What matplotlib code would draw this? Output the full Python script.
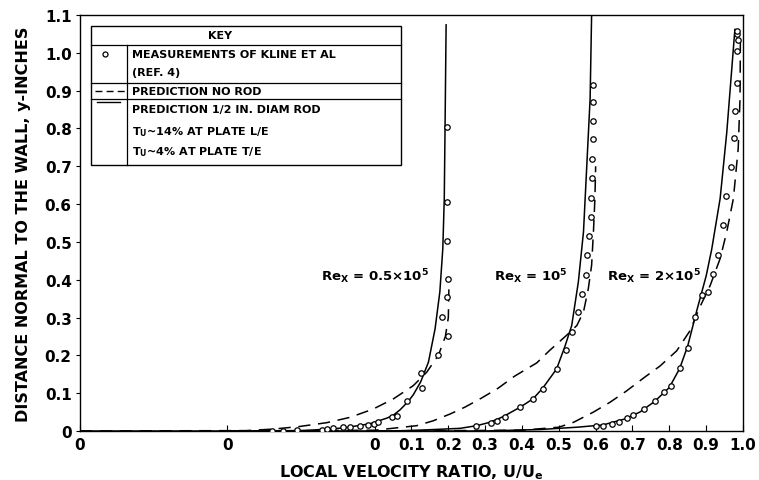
import matplotlib
matplotlib.use('Agg')
import matplotlib.pyplot as plt
from matplotlib.patches import Rectangle

plt.rcParams['font.family'] = 'DejaVu Sans'
plt.rcParams['font.weight'] = 'bold'
plt.rcParams['mathtext.default'] = 'bf'

# each profile is drawn with its own zero, shifted along the x axis
offsets = [-0.8, -0.4, 0.0]
re_labels = [r'Re$_X$ = 0.5$\times$10$^5$', r'Re$_X$ = 10$^5$', r'Re$_X$ = 2$\times$10$^5$']
label_pos = [(-0.145, 0.41), (0.325, 0.41), (0.63, 0.41)]

# Re = 0.5e5
meas_u1 = [0.52, 0.552, 0.588, 0.656, 0.67, 0.688, 0.715, 0.733, 0.76, 0.783, 0.797, 0.81,
           0.846, 0.86, 0.888, 0.928, 0.927, 0.972, 1.0, 0.982, 0.996, 1.0, 0.997, 0.997, 0.997]
meas_y1 = [0.0, 0.0, 0.003, 0.002, 0.005, 0.007, 0.01, 0.01, 0.012, 0.016, 0.019, 0.024,
           0.038, 0.04, 0.08, 0.113, 0.154, 0.201, 0.252, 0.301, 0.353, 0.401, 0.503, 0.606, 0.805]
solid_u1 = [0.0, 0.55, 0.625, 0.715, 0.787, 0.833, 0.851, 0.869, 0.891, 0.905, 0.925, 0.946,
            0.964, 0.977, 0.985, 0.989, 0.991, 0.994]
solid_y1 = [0.0, 0.0, 0.002, 0.008, 0.019, 0.034, 0.042, 0.056, 0.078, 0.096, 0.13, 0.182,
            0.27, 0.368, 0.482, 0.615, 0.792, 1.074]
dash_u1 = [0.0, 0.45, 0.525, 0.597, 0.67, 0.733, 0.796, 0.851, 0.905, 0.941, 0.973, 0.992, 1.0, 1.002]
dash_y1 = [0.0, 0.001, 0.005, 0.012, 0.022, 0.036, 0.058, 0.085, 0.12, 0.155, 0.2, 0.25, 0.3, 0.4]

# Re = 1e5
meas_u2 = [0.675, 0.715, 0.731, 0.754, 0.795, 0.83, 0.856, 0.894, 0.92, 0.935, 0.953, 0.964,
           0.973, 0.976, 0.982, 0.987, 0.987, 0.989, 0.989, 0.994, 0.994, 0.994, 0.994]
meas_y2 = [0.014, 0.021, 0.027, 0.038, 0.063, 0.084, 0.111, 0.164, 0.215, 0.263, 0.315, 0.363,
           0.413, 0.465, 0.515, 0.566, 0.617, 0.668, 0.718, 0.771, 0.821, 0.869, 0.915]
solid_u2 = [0.0, 0.45, 0.541, 0.632, 0.677, 0.713, 0.749, 0.795, 0.83, 0.856, 0.894, 0.917,
            0.935, 0.953, 0.967, 0.976, 0.985, 0.989]
solid_y2 = [0.0, 0.0, 0.003, 0.007, 0.014, 0.023, 0.038, 0.063, 0.085, 0.113, 0.164, 0.225,
            0.279, 0.394, 0.527, 0.703, 0.88, 1.1]
dash_u2 = [0.0, 0.4, 0.514, 0.559, 0.605, 0.645, 0.69, 0.735, 0.78, 0.84, 0.875, 0.921,
           0.949, 0.967, 0.98, 0.989, 0.994, 0.998, 1.0]
dash_y2 = [0.0, 0.002, 0.014, 0.027, 0.045, 0.063, 0.087, 0.113, 0.145, 0.18, 0.213, 0.253,
           0.279, 0.315, 0.376, 0.438, 0.527, 0.615, 0.7]

# Re = 2e5
meas_u3 = [0.6, 0.621, 0.644, 0.664, 0.684, 0.702, 0.731, 0.761, 0.785, 0.805, 0.828, 0.85,
           0.87, 0.888, 0.906, 0.918, 0.931, 0.945, 0.954, 0.967, 0.976, 0.978, 0.983, 0.985,
           0.987, 0.983, 0.985]
meas_y3 = [0.012, 0.014, 0.019, 0.024, 0.034, 0.042, 0.058, 0.08, 0.103, 0.12, 0.166, 0.22,
           0.301, 0.359, 0.367, 0.416, 0.465, 0.544, 0.621, 0.699, 0.774, 0.847, 0.92, 1.004,
           1.034, 1.05, 1.057]
solid_u3 = [0.0, 0.3, 0.45, 0.55, 0.62, 0.68, 0.72, 0.76, 0.8, 0.828, 0.85, 0.875, 0.9,
            0.915, 0.938, 0.956, 0.978]
solid_y3 = [0.0, 0.0, 0.004, 0.01, 0.016, 0.032, 0.05, 0.078, 0.115, 0.165, 0.225, 0.32, 0.41,
            0.48, 0.615, 0.79, 1.062]
dash_u3 = [0.0, 0.4, 0.5, 0.54, 0.594, 0.639, 0.684, 0.73, 0.775, 0.82, 0.856, 0.884, 0.911,
           0.938, 0.956, 0.974, 0.987, 0.992, 0.993]
dash_y3 = [0.0, 0.002, 0.01, 0.023, 0.05, 0.076, 0.106, 0.14, 0.172, 0.212, 0.265, 0.33, 0.385,
           0.456, 0.527, 0.615, 0.747, 0.88, 1.05]

meas_u = [meas_u1, meas_u2, meas_u3]
meas_y = [meas_y1, meas_y2, meas_y3]
solid_u = [solid_u1, solid_u2, solid_u3]
solid_y = [solid_y1, solid_y2, solid_y3]
dash_u = [dash_u1, dash_u2, dash_u3]
dash_y = [dash_y1, dash_y2, dash_y3]

x_ticks = [-0.8, -0.4, 0.0, 0.1, 0.2, 0.3, 0.4, 0.5, 0.6, 0.7, 0.8, 0.9, 1.0]
x_ticklabels = ['0', '0', '0', '0.1', '0.2', '0.3', '0.4', '0.5', '0.6', '0.7', '0.8', '0.9', '1.0']
y_ticks = [0, 0.1, 0.2, 0.3, 0.4, 0.5, 0.6, 0.7, 0.8, 0.9, 1.0, 1.1]
y_ticklabels = ['0', '0.1', '0.2', '0.3', '0.4', '0.5', '0.6', '0.7', '0.8', '0.9', '1.0', '1.1']

fig = plt.figure(figsize=(7.59, 4.81), dpi=100)
ax = fig.add_axes([0.1054, 0.1019, 0.8735, 0.8648])

for k in range(3):
    off = offsets[k]
    ax.plot([u + off for u in solid_u[k]], solid_y[k], color='black', lw=1.1)
    ax.plot([u + off for u in dash_u[k]], dash_y[k], color='black', lw=1.1, dashes=(8, 5))
    ax.plot([u + off for u in meas_u[k]], meas_y[k], 'o', mfc='white', mec='black',
            ms=3.9, mew=0.9, zorder=3)
    ax.text(label_pos[k][0], label_pos[k][1], re_labels[k], fontsize=9.5, fontweight='bold',
            ha='left', va='center')

ax.set_xlim(-0.8, 1.0)
ax.set_ylim(0, 1.1)
ax.set_xticks(x_ticks)
ax.set_xticklabels(x_ticklabels, fontsize=11, fontweight='bold')
ax.set_yticks(y_ticks)
ax.set_yticklabels(y_ticklabels, fontsize=11, fontweight='bold')
ax.tick_params(axis='x', direction='in', length=4, pad=4)
ax.tick_params(axis='y', direction='out', length=3, pad=3)
for s in ax.spines.values():
    s.set_linewidth(1.0)

ax.set_xlabel(r'LOCAL VELOCITY RATIO, U/U$_e$', fontsize=11.5, fontweight='bold', labelpad=8)
ax.set_ylabel('DISTANCE NORMAL TO THE WALL, y-INCHES', fontsize=11.5, fontweight='bold',
              labelpad=10)

# key box
tr = ax.transAxes
ax.add_patch(Rectangle((0.0166, 0.6394), 0.4674, 0.3342, transform=tr, fc='white',
                       ec='black', lw=1.0, zorder=5))
for yy in [0.928, 0.8365, 0.798]:
    ax.plot([0.0166, 0.484], [yy, yy], transform=tr, color='black', lw=0.9, zorder=6)
ax.plot([0.0709, 0.0709], [0.6394, 0.928], transform=tr, color='black', lw=0.9, zorder=6)
ax.text(0.211, 0.952, 'KEY', transform=tr, fontsize=8, fontweight='bold',
        ha='center', va='center', zorder=7)
ax.plot([0.0377], [0.906], 'o', transform=tr, mfc='white', mec='black', ms=3.6, mew=0.9, zorder=7)
ax.plot([0.0226, 0.0679], [0.817, 0.817], transform=tr, color='black', lw=1.0,
        dashes=(5, 3), zorder=7)
ax.plot([0.0256, 0.0603], [0.791, 0.791], transform=tr, color='black', lw=1.0, zorder=7)
key_rows = ['MEASUREMENTS OF KLINE ET AL', '(REF. 4)', 'PREDICTION NO ROD',
            'PREDICTION 1/2 IN. DIAM ROD', r'T$_U$~14% AT PLATE L/E', r'T$_U$~4% AT PLATE T/E']
key_y = [0.906, 0.863, 0.817, 0.774, 0.721, 0.673]
for txt, yy in zip(key_rows, key_y):
    ax.text(0.0784, yy, txt, transform=tr, fontsize=8, fontweight='bold',
            ha='left', va='center', zorder=7)

fig.savefig('out.png', dpi=100)
